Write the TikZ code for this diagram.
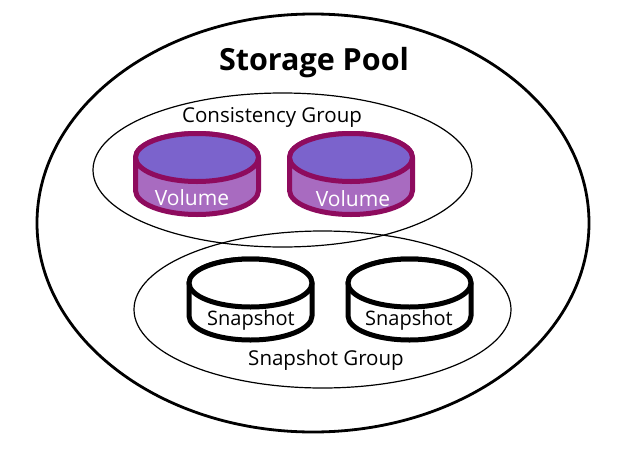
\documentclass[tikz,border=0pt]{standalone}
\usepackage{fontspec}
\setmainfont{Open Sans}
\usetikzlibrary{shapes.geometric}
\definecolor{volline}{HTML}{8E0B5E}
\definecolor{voltop}{HTML}{7B63CC}
\definecolor{volside}{HTML}{A86BC0}
\tikzset{
  x=1pt,y=-1pt,
  group/.style={ellipse,draw=black,line width=1.2pt,inner sep=0pt,outer sep=0pt},
  pool/.style={group,line width=2.8pt},
  lab/.style={inner sep=0pt,text=black},
  vollab/.style={lab,text=white,font=\fontsize{21}{24}\selectfont},
  snaplab/.style={lab,font=\fontsize{20}{24}\selectfont},
  grouplab/.style={lab,font=\fontsize{20.5}{24}\selectfont},
  voldisk/.style={draw=volline,line width=5pt,line join=round},
  snapdisk/.style={draw=black,line width=5pt,line join=round},
}
% centre x, top-ellipse centre y, style, side fill, top fill
\newcommand{\diskshape}[5]{%
  \path[#3,fill=#4] (#1-61.5,#2) -- (#1-61.5,#2+33) arc[start angle=180,end angle=0,x radius=61.5,y radius=24]
     -- (#1+61.5,#2) arc[start angle=0,end angle=-180,x radius=61.5,y radius=24] -- cycle;
  \path[#3,fill=#5] (#1,#2) ellipse[x radius=61.5,y radius=24];
}
\begin{document}
\begin{tikzpicture}
\useasboundingbox (0,0) rectangle (640,450);
\fill[white] (0,0) rectangle (640,450);
\node[pool,minimum width=552pt,minimum height=418pt] (poolring) at (313,223) {};
\node[group,minimum width=379pt,minimum height=154pt] (cgring) at (282.5,170) {};
\node[group,minimum width=377pt,minimum height=157pt] (sgring) at (322.5,309.5) {};
\diskshape{197}{157.5}{voldisk}{volside}{voltop}
\diskshape{351}{157.5}{voldisk}{volside}{voltop}
\diskshape{250.5}{283}{snapdisk}{white}{white}
\diskshape{409.5}{283}{snapdisk}{white}{white}
\node[lab,font=\bfseries\fontsize{30.5}{36}\selectfont] (pooltitle) at (314,62.5) {Storage Pool};
\node[grouplab] (cgtitle) at (272,117) {Consistency Group};
\node[grouplab] (sgtitle) at (326,360) {Snapshot Group};
\node[vollab] (v1) at (192,198) {Volume};
\node[vollab] (v2) at (353,199) {Volume};
\node[snaplab] (s1) at (251,320) {Snapshot};
\node[snaplab] (s2) at (409,320) {Snapshot};
\end{tikzpicture}
\end{document}
